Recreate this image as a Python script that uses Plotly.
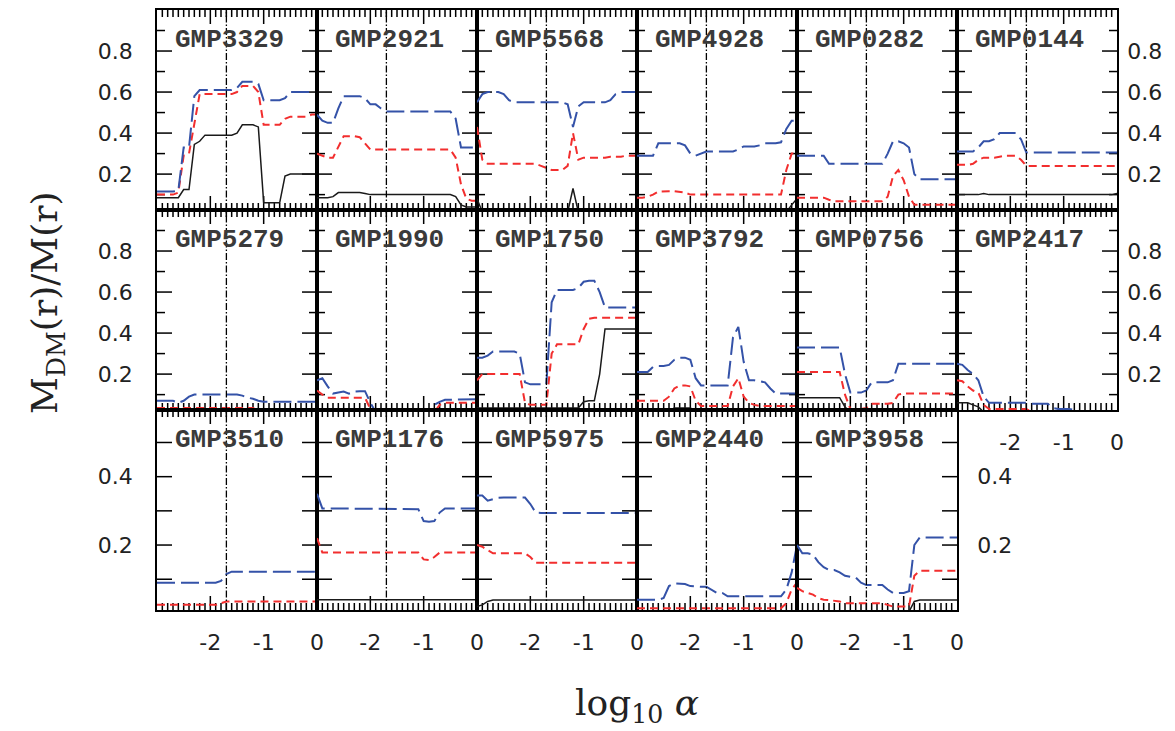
import math
import plotly.graph_objects as go

# ---------------- data ----------------
LOG_ALPHA = [-3.0, -2.9, -2.8, -2.7, -2.6, -2.5, -2.4, -2.3, -2.2, -2.1, -2.0,
             -1.9, -1.8, -1.7, -1.6, -1.5, -1.4, -1.3, -1.2, -1.1, -1.0,
             -0.9, -0.8, -0.7, -0.6, -0.5, -0.4, -0.3, -0.2, -0.1, 0.0]
ALPHA_REF = 0.02

GALAXIES = ["GMP3329", "GMP2921", "GMP5568", "GMP4928", "GMP0282", "GMP0144",
            "GMP5279", "GMP1990", "GMP1750", "GMP3792", "GMP0756", "GMP2417",
            "GMP3510", "GMP1176", "GMP5975", "GMP2440", "GMP3958"]

# A = blue long dashes, B = red short dashes, C = black solid
GMP3329_A = [.115, .115, .115, .115, .12, .33, .33, .58, .61, .61, .61, .61, .61, .61, .61, .62, .65, .65, .65, .64, .56, .56, .56, .56, .57, .60, .60, .60, .60, .60, .60]
GMP3329_B = [.10, .10, .10, .10, .11, .29, .30, .45, .59, .59, .59, .59, .59, .59, .59, .60, .63, .63, .63, .60, .44, .44, .44, .44, .47, .48, .48, .48, .48, .49, .49]
GMP3329_C = [.085, .085, .085, .085, .085, .125, .125, .345, .36, .39, .39, .39, .39, .39, .39, .40, .44, .44, .44, .43, .06, .06, .06, .06, .19, .20, .20, .20, .20, .20, .20]

GMP2921_A = [.49, .46, .45, .45, .52, .58, .58, .58, .58, .57, .54, .54, .52, .505, .505, .505, .505, .505, .505, .505, .505, .505, .505, .505, .505, .505, .47, .33, .33, .33, .33]
GMP2921_B = [.30, .29, .28, .28, .33, .385, .385, .385, .38, .35, .32, .32, .32, .32, .32, .32, .32, .32, .32, .32, .32, .32, .32, .32, .32, .32, .28, .15, .08, .07, .07]
GMP2921_C = [.085, .085, .085, .09, .11, .11, .11, .11, .11, .105, .10, .10, .10, .10, .10, .10, .10, .10, .10, .10, .10, .10, .10, .10, .10, .10, .09, .05, .04, .04, .04]

GMP5568_A = [.55, .59, .60, .60, .60, .59, .56, .55, .55, .55, .55, .55, .55, .55, .55, .55, .55, .54, .43, .53, .55, .55, .55, .55, .55, .56, .59, .60, .60, .60, .60]
GMP5568_B = [.43, .27, .25, .25, .25, .25, .25, .25, .25, .25, .25, .25, .24, .23, .22, .22, .22, .24, .40, .27, .28, .28, .28, .28, .28, .285, .285, .285, .29, .29, .29]
GMP5568_C = [.08, .015, .015, .015, .015, .015, .015, .015, .015, .015, .015, .015, .015, .015, .015, .015, .015, .015, .13, .015, .015, .015, .015, .015, .015, .015, .015, .015, .015, .015, .015]

GMP4928_A = [.29, .29, .29, .29, .35, .35, .35, .35, .35, .34, .30, .29, .30, .31, .31, .31, .31, .31, .31, .32, .335, .335, .335, .34, .35, .35, .35, .355, .42, .46, .46]
GMP4928_B = [.085, .085, .09, .10, .115, .117, .117, .117, .115, .11, .10, .10, .10, .10, .10, .10, .10, .10, .10, .10, .10, .10, .10, .10, .10, .10, .10, .10, .22, .30, .30]
GMP4928_C = [.015, .015, .015, .015, .015, .015, .015, .015, .015, .015, .015, .015, .015, .015, .015, .015, .015, .015, .015, .015, .015, .015, .015, .015, .015, .015, .015, .015, .015, .05, .08]

GMP0282_A = [.29, .29, .29, .29, .29, .29, .25, .25, .25, .25, .25, .25, .25, .25, .25, .25, .25, .30, .36, .36, .35, .33, .20, .175, .175, .175, .175, .175, .175, .175, .175]
GMP0282_B = [.085, .085, .085, .085, .085, .085, .075, .068, .068, .068, .068, .068, .068, .068, .068, .068, .068, .09, .19, .22, .17, .09, .05, .05, .05, .05, .05, .05, .05, .05, .05]
GMP0282_C = [.015, .015, .015, .015, .015, .015, .015, .015, .015, .015, .015, .015, .015, .015, .015, .015, .015, .015, .015, .015, .015, .015, .015, .015, .015, .015, .015, .015, .015, .015, .015]

GMP0144_A = [.31, .31, .31, .31, .33, .36, .36, .37, .40, .40, .40, .40, .37, .305, .305, .305, .305, .305, .305, .305, .305, .305, .305, .305, .305, .305, .305, .305, .305, .305, .305]
GMP0144_B = [.245, .245, .245, .25, .27, .28, .28, .28, .285, .29, .29, .29, .27, .24, .24, .24, .24, .24, .24, .24, .24, .24, .24, .24, .24, .24, .24, .24, .24, .24, .24]
GMP0144_C = [.10, .10, .10, .10, .10, .105, .10, .10, .10, .10, .10, .10, .10, .10, .10, .10, .10, .10, .10, .10, .10, .10, .10, .10, .10, .10, .10, .10, .10, .10, .105]

GMP5279_A = [.07, .07, .07, .07, .06, .07, .09, .10, .10, .10, .10, .10, .10, .10, .10, .10, .095, .085, .08, .07, .065, .065, .065, .065, .065, .065, .065, .065, .065, .065, .065]
GMP5279_B = [.035, .035, .035, .035, .035, .035, .035, .035, .035, .035, .035, .035, .035, .035, .035, .035, .035, .035, .035, .02, .02, .02, .02, .02, .02, .02, .02, .02, .02, .02, .02]
GMP5279_C = [.015, .015, .015, .015, .015, .015, .015, .015, .015, .015, .015, .015, .015, .015, .015, .015, .015, .015, .015, .015, .015, .015, .015, .015, .015, .015, .015, .015, .015, .015, .015]

GMP1990_A = [.17, .18, .14, .105, .11, .115, .105, .115, .117, .117, .06, .015, .015, .015, .015, .015, .015, .015, .015, .015, .015, .015, .05, .065, .075, .075, .075, .077, .077, .077, .077]
GMP1990_B = [.12, .10, .085, .085, .085, .085, .085, .085, .085, .085, .03, .015, .015, .015, .015, .015, .015, .015, .015, .015, .015, .015, .015, .05, .06, .06, .06, .06, .06, .06, .06]
GMP1990_C = [.015, .015, .015, .015, .015, .015, .015, .015, .015, .015, .015, .015, .015, .015, .015, .015, .015, .015, .015, .015, .015, .015, .015, .015, .015, .015, .015, .015, .015, .015, .015]

GMP1750_A = [.28, .28, .29, .31, .31, .31, .31, .31, .30, .16, .15, .15, .15, .15, .55, .61, .61, .61, .61, .62, .65, .655, .655, .60, .525, .525, .525, .525, .525, .525, .525]
GMP1750_B = [.17, .20, .20, .20, .20, .20, .20, .20, .20, .06, .05, .05, .05, .05, .30, .345, .345, .345, .345, .345, .42, .47, .475, .475, .475, .475, .475, .475, .475, .475, .475]
GMP1750_C = [.035, .035, .035, .035, .035, .035, .035, .035, .035, .035, .035, .035, .035, .035, .035, .035, .035, .035, .035, .035, .065, .07, .07, .20, .42, .42, .42, .42, .42, .42, .42]

GMP3792_A = [.21, .21, .21, .235, .24, .24, .245, .27, .28, .28, .27, .18, .145, .145, .145, .145, .145, .145, .38, .43, .26, .17, .17, .165, .16, .13, .105, .105, .105, .105, .105]
GMP3792_B = [.07, .07, .07, .07, .07, .07, .09, .13, .145, .145, .14, .07, .045, .045, .045, .045, .045, .045, .14, .18, .09, .06, .05, .045, .045, .045, .045, .045, .045, .045, .045]
GMP3792_C = [.02, .02, .02, .02, .02, .02, .02, .035, .035, .035, .035, .02, .02, .02, .02, .02, .02, .02, .02, .02, .02, .02, .02, .02, .02, .02, .02, .02, .02, .02, .02]

GMP0756_A = [.33, .33, .33, .33, .33, .33, .33, .33, .33, .20, .11, .11, .11, .12, .16, .16, .16, .16, .17, .25, .25, .25, .25, .25, .25, .25, .25, .25, .25, .25, .25]
GMP0756_B = [.21, .21, .21, .21, .21, .21, .21, .21, .21, .10, .03, .03, .03, .035, .055, .055, .055, .055, .06, .10, .105, .105, .105, .105, .105, .105, .105, .105, .105, .105, .105]
GMP0756_C = [.085, .085, .085, .085, .085, .085, .085, .085, .085, .04, .015, .015, .015, .015, .015, .015, .015, .015, .015, .015, .015, .015, .015, .015, .015, .015, .015, .015, .015, .015, .015]

GMP2417_A = [.25, .245, .22, .20, .17, .09, .06, .06, .06, .06, .06, .06, .06, .06, .056, .056, .056, .056, .035, .03, .03, .03, .025, .015, .015, .015, .015, .015, .015, .015, .015]
GMP2417_B = [.17, .165, .14, .12, .11, .05, .03, .03, .03, .03, .03, .03, .03, .03, .015, .015, .015, .015, .015, .015, .015, .015, .015, .015, .015, .015, .015, .015, .015, .015, .015]
GMP2417_C = [.06, .06, .06, .05, .04, .015, .015, .015, .015, .015, .015, .015, .015, .015, .015, .015, .015, .015, .015, .015, .015, .015, .015, .015, .015, .015, .015, .015, .015, .015, .015]

GMP3510_A = [.09, .09, .09, .09, .09, .09, .09, .09, .09, .09, .09, .09, .095, .115, .122, .122, .122, .122, .122, .122, .122, .122, .122, .122, .122, .122, .122, .122, .122, .122, .122]
GMP3510_B = [.025, .025, .025, .025, .025, .025, .025, .025, .025, .025, .025, .025, .03, .035, .035, .035, .035, .035, .035, .035, .035, .035, .035, .035, .035, .035, .035, .035, .035, .035, .035]
GMP3510_C = [.005, .005, .005, .005, .005, .005, .005, .005, .005, .005, .005, .005, .005, .005, .005, .005, .005, .005, .005, .005, .005, .005, .005, .005, .005, .005, .005, .005, .005, .005, .005]

GMP1176_A = [.35, .307, .307, .307, .307, .307, .307, .307, .307, .307, .307, .307, .307, .307, .307, .307, .307, .307, .307, .305, .27, .268, .27, .295, .307, .307, .307, .307, .307, .307, .307]
GMP1176_B = [.22, .178, .178, .178, .178, .178, .178, .178, .178, .178, .178, .178, .178, .178, .178, .178, .178, .178, .178, .178, .158, .156, .165, .178, .178, .178, .178, .178, .178, .178, .178]
GMP1176_C = [.04, .04, .04, .04, .04, .04, .04, .04, .04, .04, .04, .04, .04, .04, .04, .04, .04, .04, .04, .04, .04, .04, .04, .04, .04, .04, .04, .04, .04, .04, .04]

GMP5975_A = [.345, .345, .33, .335, .338, .339, .339, .339, .339, .339, .32, .295, .294, .294, .294, .294, .294, .294, .294, .294, .294, .294, .294, .294, .294, .294, .294, .294, .294, .294, .294]
GMP5975_B = [.20, .195, .185, .176, .176, .176, .176, .176, .176, .176, .165, .148, .148, .148, .148, .148, .148, .148, .148, .148, .148, .148, .148, .148, .148, .148, .148, .148, .148, .148, .148]
GMP5975_C = [.02, .025, .035, .039, .039, .039, .039, .039, .039, .039, .039, .039, .039, .039, .039, .039, .039, .039, .039, .039, .039, .039, .039, .039, .039, .039, .039, .039, .039, .039, .039]

GMP2440_A = [.04, .04, .04, .04, .04, .045, .08, .088, .088, .086, .08, .078, .078, .078, .07, .06, .06, .05, .05, .05, .05, .05, .05, .05, .05, .05, .05, .05, .07, .12, .20]
GMP2440_B = [.015, .015, .015, .015, .015, .015, .015, .015, .015, .015, .015, .015, .015, .015, .015, .015, .015, .015, .015, .015, .015, .015, .015, .015, .015, .015, .015, .015, .03, .07, .09]
GMP2440_C = [.005, .005, .005, .005, .005, .005, .005, .005, .005, .005, .005, .005, .005, .005, .005, .005, .005, .005, .005, .005, .005, .005, .005, .005, .005, .005, .005, .005, .005, .005, .005]

GMP3958_A = [.20, .176, .176, .172, .15, .135, .127, .127, .12, .11, .107, .105, .09, .083, .083, .083, .083, .07, .06, .06, .06, .065, .20, .222, .222, .222, .222, .222, .222, .222, .222]
GMP3958_B = [.075, .065, .06, .055, .045, .04, .039, .037, .035, .03, .03, .03, .03, .03, .03, .03, .03, .025, .02, .02, .02, .02, .11, .125, .125, .125, .125, .125, .125, .125, .125]
GMP3958_C = [.005, .005, .005, .005, .005, .005, .005, .005, .005, .005, .005, .005, .005, .005, .005, .005, .005, .005, .005, .005, .005, .005, .035, .039, .039, .039, .039, .039, .039, .039, .039]

SERIES = {
    "GMP3329": (GMP3329_A, GMP3329_B, GMP3329_C),
    "GMP2921": (GMP2921_A, GMP2921_B, GMP2921_C),
    "GMP5568": (GMP5568_A, GMP5568_B, GMP5568_C),
    "GMP4928": (GMP4928_A, GMP4928_B, GMP4928_C),
    "GMP0282": (GMP0282_A, GMP0282_B, GMP0282_C),
    "GMP0144": (GMP0144_A, GMP0144_B, GMP0144_C),
    "GMP5279": (GMP5279_A, GMP5279_B, GMP5279_C),
    "GMP1990": (GMP1990_A, GMP1990_B, GMP1990_C),
    "GMP1750": (GMP1750_A, GMP1750_B, GMP1750_C),
    "GMP3792": (GMP3792_A, GMP3792_B, GMP3792_C),
    "GMP0756": (GMP0756_A, GMP0756_B, GMP0756_C),
    "GMP2417": (GMP2417_A, GMP2417_B, GMP2417_C),
    "GMP3510": (GMP3510_A, GMP3510_B, GMP3510_C),
    "GMP1176": (GMP1176_A, GMP1176_B, GMP1176_C),
    "GMP5975": (GMP5975_A, GMP5975_B, GMP5975_C),
    "GMP2440": (GMP2440_A, GMP2440_B, GMP2440_C),
    "GMP3958": (GMP3958_A, GMP3958_B, GMP3958_C),
}

# tick values and labels
X_TICKVALS = [-2, -1, 0]
X_TICKTEXT = ["-2", "-1", "0"]
X_MAJOR_TICKS = [-2, -1]
X_MINOR_TICKS = [-2.9, -2.8, -2.7, -2.6, -2.5, -2.4, -2.3, -2.2, -2.1,
                 -1.9, -1.8, -1.7, -1.6, -1.5, -1.4, -1.3, -1.2, -1.1,
                 -0.9, -0.8, -0.7, -0.6, -0.5, -0.4, -0.3, -0.2, -0.1]
Y_TICKVALS_TOP = [0.2, 0.4, 0.6, 0.8]
Y_TICKTEXT_TOP = ["0.2", "0.4", "0.6", "0.8"]
Y_MINOR_TICKS_TOP = [0.1, 0.3, 0.5, 0.7, 0.9]
Y_TICKVALS_BOT = [0.2, 0.4]
Y_TICKTEXT_BOT = ["0.2", "0.4"]
Y_MAJOR_TICKS_BOT = [0.1, 0.2, 0.3, 0.4, 0.5]
X_RANGE = [-3, 0]
Y_RANGE_TOP = [0.025, 1.0]
Y_RANGE_BOT = [0.01, 0.595]

# ---------------- layout geometry ----------------
W, H = 1175, 731
LEFT, PW = 157, 160
TOP, PH = 10, 200
NCOL = 6
X_MAJ_LEN, X_MIN_LEN = 14, 7     # tick lengths in px
Y_MAJ_LEN, Y_MIN_LEN = 15, 8

BLUE = "rgb(52,82,168)"
RED = "rgb(242,46,46)"
BLACK = "#1a1a1a"


def tick_marks(yr, y_major, y_minor):
    """Inside tick marks on all four sides, expressed in the panel's data units."""
    xs, ys = [], []
    sy = (yr[1] - yr[0]) / PH
    sx = (X_RANGE[1] - X_RANGE[0]) / PW
    for vals, ln in ((X_MAJOR_TICKS, X_MAJ_LEN), (X_MINOR_TICKS, X_MIN_LEN)):
        d = ln * sy
        for v in vals:
            xs += [v, v, None, v, v, None]
            ys += [yr[0], yr[0] + d, None, yr[1], yr[1] - d, None]
    for vals, ln in ((y_major, Y_MAJ_LEN), (y_minor, Y_MIN_LEN)):
        d = ln * sx
        for v in vals:
            xs += [X_RANGE[0], X_RANGE[0] + d, None, X_RANGE[1], X_RANGE[1] - d, None]
            ys += [v, v, None, v, v, None]
    return xs, ys


fig = go.Figure()
layout = dict(width=W, height=H, margin=dict(l=0, r=0, t=0, b=0),
              paper_bgcolor="white", plot_bgcolor="white", showlegend=False)
shapes, annotations = [], []

for i, name in enumerate(GALAXIES):
    r, c = divmod(i, NCOL)
    sfx = "" if i == 0 else str(i + 1)
    xref, yref = "x" + sfx, "y" + sfx
    if r < 2:
        yr = Y_RANGE_TOP
        ytv, ytt = Y_TICKVALS_TOP, Y_TICKTEXT_TOP
        y_major, y_minor = Y_TICKVALS_TOP, Y_MINOR_TICKS_TOP
        right_col, right_standoff = 5, 4
    else:
        yr = Y_RANGE_BOT
        ytv, ytt = Y_TICKVALS_BOT, Y_TICKTEXT_BOT
        y_major, y_minor = Y_MAJOR_TICKS_BOT, []
        right_col, right_standoff = 4, 14

    tx, ty = tick_marks(yr, y_major, y_minor)
    fig.add_trace(go.Scatter(x=tx, y=ty, mode="lines", xaxis=xref, yaxis=yref,
                             line=dict(color="black", width=1.5), connectgaps=False,
                             hoverinfo="skip"))

    a, b, k = SERIES[name]
    fig.add_trace(go.Scatter(x=LOG_ALPHA, y=k, mode="lines", xaxis=xref, yaxis=yref,
                             line=dict(color=BLACK, width=1.5)))
    fig.add_trace(go.Scatter(x=LOG_ALPHA, y=b, mode="lines", xaxis=xref, yaxis=yref,
                             line=dict(color=RED, width=2, dash="8px,5px")))
    fig.add_trace(go.Scatter(x=LOG_ALPHA, y=a, mode="lines", xaxis=xref, yaxis=yref,
                             line=dict(color=BLUE, width=2, dash="18px,6px")))

    x0 = (LEFT + PW * c) / W
    x1 = (LEFT + PW * (c + 1)) / W
    y1 = 1 - (TOP + PH * r) / H
    y0 = 1 - (TOP + PH * (r + 1)) / H
    show_x = (r == 2) or (r == 1 and c == 5)
    layout["xaxis" + sfx] = dict(
        domain=[x0, x1], anchor=yref, range=X_RANGE, automargin=False,
        showline=True, linecolor="black", linewidth=1.6, mirror=True,
        ticks="", tickmode="array", tickvals=X_TICKVALS, ticktext=X_TICKTEXT,
        showticklabels=show_x,
        tickfont=dict(family="DejaVu Sans", size=22, color="#222"),
        ticklabelstandoff=12, showgrid=False, zeroline=False)
    show_y = (c == 0) or (c == right_col)
    layout["yaxis" + sfx] = dict(
        domain=[y0, y1], anchor=xref, range=yr, automargin=False,
        side="right" if c == right_col else "left",
        showline=True, linecolor="black", linewidth=1.6, mirror=True,
        ticks="", tickmode="array", tickvals=ytv, ticktext=ytt,
        showticklabels=show_y,
        tickfont=dict(family="DejaVu Sans", size=22, color="#222"),
        ticklabelstandoff=18 if c == 0 else right_standoff,
        showgrid=False, zeroline=False)

    ref = math.log10(ALPHA_REF)
    shapes.append(dict(type="line", xref=xref, yref=yref + " domain",
                       x0=ref, x1=ref, y0=0, y1=1,
                       line=dict(color="black", width=1.3, dash="7px,2px,1.5px,2px")))
    annotations.append(dict(text="<b>" + name + "</b>", xref=xref + " domain",
                            yref=yref + " domain",
                            x=0.1, y=0.85, xanchor="left", yanchor="middle",
                            showarrow=False,
                            font=dict(family="Liberation Mono, Courier New, monospace",
                                      size=26, color="#3a3a3a")))

annotations.append(dict(text="M<sub>DM</sub>(r)/M(r)", xref="paper", yref="paper",
                        x=48 / W, y=1 - 303 / H, textangle=-90, showarrow=False,
                        xanchor="center", yanchor="middle",
                        font=dict(family="DejaVu Serif", size=36, color="#222")))
annotations.append(dict(text="log<sub>10</sub> <i>α</i>", xref="paper", yref="paper",
                        x=637 / W, y=1 - 705 / H, showarrow=False,
                        xanchor="center", yanchor="middle",
                        font=dict(family="DejaVu Serif", size=36, color="#222")))

layout["shapes"] = shapes
layout["annotations"] = annotations
fig.update_layout(**layout)
fig.write_html("out.html")
